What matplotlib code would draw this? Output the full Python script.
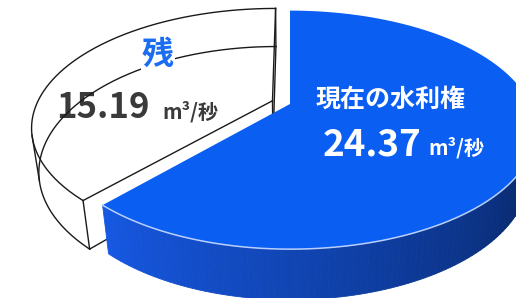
import numpy as np
import matplotlib
matplotlib.use("Agg")
import matplotlib.pyplot as plt
from matplotlib.patches import Polygon

plt.rcParams['font.family'] = ['Noto Sans CJK JP', 'DejaVu Sans']

# data
labels = ['現在の水利権', '残']
values = [24.37, 15.19]
unit = 'm³/秒'

# camera / pie geometry (pixel space)
X0, Y0 = 290, 104
FXL, FXR, FY = 945, 962, 922
D = 4.007
elev = np.radians(29.6)
c, s = np.cos(elev), np.sin(elev)
h = 0.225
explode = 0.08


def proj(x, y, z):
    x = np.asarray(x, dtype=float)
    depth = D + y * c - z * s
    fx = np.where(x >= 0, FXR, FXL)
    return X0 + fx * x / depth, Y0 - FY * (y * s + z * c) / depth


def arc(t0, t1, z, off=(0, 0), n=200):
    t = np.radians(np.linspace(t0, t1, n))
    X, Y = proj(np.cos(t) + off[0], np.sin(t) + off[1], z)
    return np.column_stack([X, Y])


total = sum(values)
span_blue = 360 * values[0] / total
start = 90
blue_t0, blue_t1 = start - span_blue, start          # clockwise from top
white_t0, white_t1 = start, start + 360 - span_blue

fig = plt.figure(figsize=(5.16, 2.98), dpi=100)
ax = fig.add_axes([0, 0, 1, 1])
ax.set_xlim(0, 516)
ax.set_ylim(298, 0)
ax.axis('off')

# white slice drawn as a wireframe
mid = np.radians((white_t0 + white_t1) / 2)
off = (explode * np.cos(mid), explode * np.sin(mid))
lk = dict(color='#1a1a1a', lw=1.0, zorder=2)
for z in (0, -h):
    a = arc(white_t0, white_t1, z, off)
    cen = proj(off[0], off[1], z)
    ax.plot(a[:, 0], a[:, 1], **lk)
    ax.plot([cen[0], a[0, 0]], [cen[1], a[0, 1]], **lk)
    ax.plot([cen[0], a[-1, 0]], [cen[1], a[-1, 1]], **lk)
sil = 180 - np.degrees(np.arcsin(-1 / (D * c)))
for t in (white_t0, white_t1, sil):
    tr = np.radians(t)
    xs, ys = proj(np.array([np.cos(tr), np.cos(tr)]) + off[0],
                  np.array([np.sin(tr), np.sin(tr)]) + off[1],
                  np.array([0, -h]))
    ax.plot(xs, ys, **lk)
xs, ys = proj(np.array([off[0], off[0]]), np.array([off[1], off[1]]), np.array([0, -h]))
ax.plot(xs, ys, **lk)

# blue slice: side wall with gradient
right_sil = 360 + np.degrees(np.arcsin(-1 / (D * c)))
tt = np.linspace(blue_t0 + 360, right_sil, 90)
c_left = np.array([0x16, 0x58, 0xe2]) / 255
c_right = np.array([0x07, 0x24, 0x62]) / 255
for i in range(len(tt) - 1):
    top = arc(tt[i], tt[i + 1], 0, n=3)
    bot = arc(tt[i + 1], tt[i], -h, n=3)
    f = i / (len(tt) - 2)
    col = c_left * (1 - f) + c_right * f
    ax.add_patch(Polygon(np.vstack([top, bot]), closed=True, fc=col, ec=col,
                         lw=0.6, zorder=4))

# blue top face
face = np.vstack([np.column_stack(proj(0.0, 0.0, 0.0)), arc(blue_t0, blue_t1, 0, n=300)])
ax.add_patch(Polygon(face, closed=True, fc='#0b5ef2', ec='none', zorder=5))
hl = arc(blue_t0 + 360, right_sil, 0)
ax.plot(hl[:, 0], hl[:, 1], color='#b9d0ff', lw=1.1, zorder=6)

# labels
ax.text(316, 107, labels[0], color='white', fontsize=18, fontweight='bold',
        ha='left', va='baseline', zorder=10)
ax.text(323, 155, f'{values[0]:.2f}', color='white', fontsize=26.5,
        fontweight='bold', ha='left', va='baseline', zorder=10)
ax.text(428, 155, unit, color='white', fontsize=14.5, fontweight='bold',
        ha='left', va='baseline', zorder=10)

ax.text(142, 64, labels[1], color='#1a6cf0', fontsize=23, fontweight='bold',
        ha='left', va='baseline', zorder=3,
        bbox=dict(fc='white', ec='none', pad=1))
ax.text(56, 118, f'{values[1]:.2f}', color='#3a3a3a', fontsize=25,
        fontweight='bold', ha='left', va='baseline', zorder=1.5)
ax.text(162, 118, unit, color='#3a3a3a', fontsize=14.5, fontweight='bold',
        ha='left', va='baseline', zorder=3)

fig.savefig('out.png', dpi=100)
